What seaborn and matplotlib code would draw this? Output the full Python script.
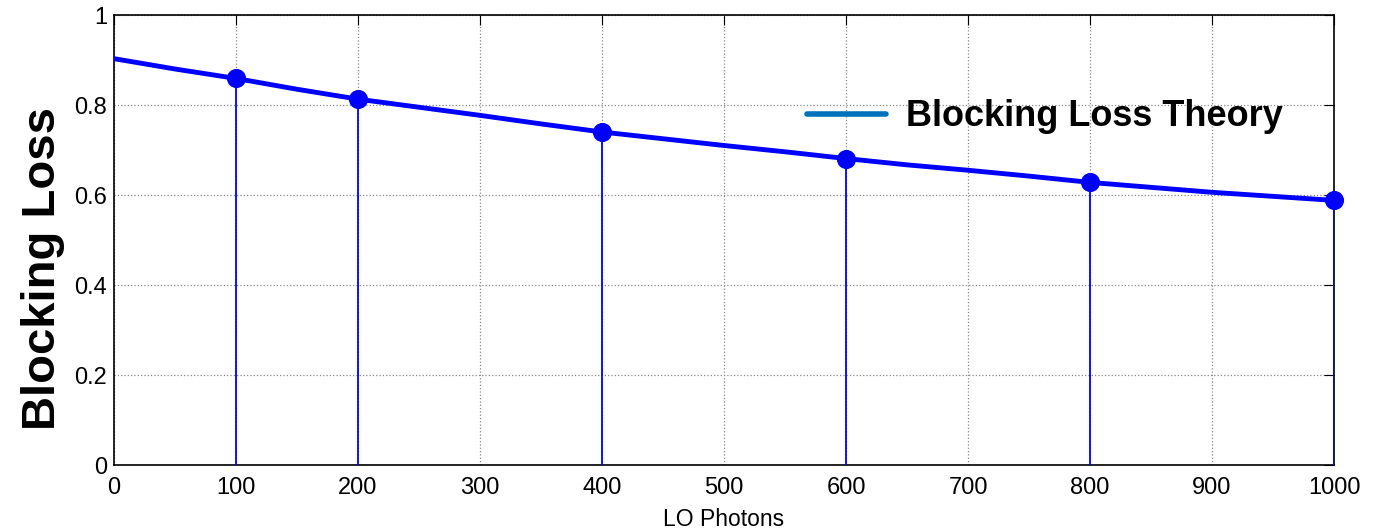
import matplotlib
matplotlib.use("Agg")
import matplotlib.pyplot as plt
import seaborn as sns
import pandas as pd

# Data
theory_x = [0, 50, 100, 150, 200, 250, 300, 350, 400, 450, 500, 550, 600, 650, 700, 750, 800, 850, 900, 950, 1000]
theory_y = [0.903, 0.880, 0.859, 0.835, 0.813, 0.795, 0.777, 0.758, 0.740, 0.725, 0.710, 0.696, 0.681, 0.667, 0.655, 0.642, 0.628, 0.617, 0.606, 0.597, 0.588]
stem_x = [100, 200, 400, 600, 800, 1000]
stem_y = [0.859, 0.813, 0.740, 0.681, 0.628, 0.588]
x_ticks = [0, 100, 200, 300, 400, 500, 600, 700, 800, 900, 1000]
y_ticks = [0, 0.2, 0.4, 0.6, 0.8, 1]
y_tick_labels = ["0", "0.2", "0.4", "0.6", "0.8", "1"]

sns.set_style("white")
plt.rcParams["font.family"] = ["Liberation Sans", "DejaVu Sans"]
plt.rcParams["text.color"] = "black"
plt.rcParams["axes.labelcolor"] = "black"

fig = plt.figure(figsize=(13.73, 5.29), dpi=100)
ax = fig.add_axes([114/1373, 1 - 465/529, (1334-114)/1373, (465-15)/529])

df_line = pd.DataFrame({"x": theory_x, "y": theory_y})
df_stem = pd.DataFrame({"x": stem_x, "y": stem_y})

ax.vlines(df_stem["x"], 0, df_stem["y"], color="#0000FF", linewidth=1.3, zorder=3)
sns.lineplot(data=df_line, x="x", y="y", ax=ax, color="#0000FF", linewidth=3.5, zorder=4, legend=False)
sns.scatterplot(data=df_stem, x="x", y="y", ax=ax, color="#0000FF", s=190, edgecolor="#0000FF",
                linewidth=0, zorder=5, legend=False, clip_on=False)

# legend proxy
ax.plot([], [], color="#0072BD", linewidth=4, label="Blocking Loss Theory")
leg = ax.legend(loc="center left", bbox_to_anchor=((807-114)/1220, (465-117)/450), frameon=False,
                prop={"weight": "bold", "size": 26}, handlelength=2.2, handletextpad=0.55,
                borderpad=0, borderaxespad=0)

ax.set_xlim(0, 1000)
ax.set_ylim(0, 1)
ax.set_xticks(x_ticks)
ax.set_yticks(y_ticks)
ax.set_yticklabels(y_tick_labels)
ax.grid(True, color="#888888", linestyle=":", linewidth=0.9)
ax.tick_params(direction="in", length=7, top=True, right=True, labelsize=17, colors="black")
ax.tick_params(axis="x", pad=9)
ax.tick_params(axis="y", pad=5)
for s in ax.spines.values():
    s.set_visible(True)
    s.set_color("black")
    s.set_linewidth(1.2)

ax.set_xlabel("LO Photons", fontsize=16.5, labelpad=6)
ax.set_ylabel("Blocking Loss", fontsize=34, fontweight="bold")
ax.yaxis.set_label_coords(-0.040, (465-268)/450)

fig.savefig("out.png", dpi=100)
